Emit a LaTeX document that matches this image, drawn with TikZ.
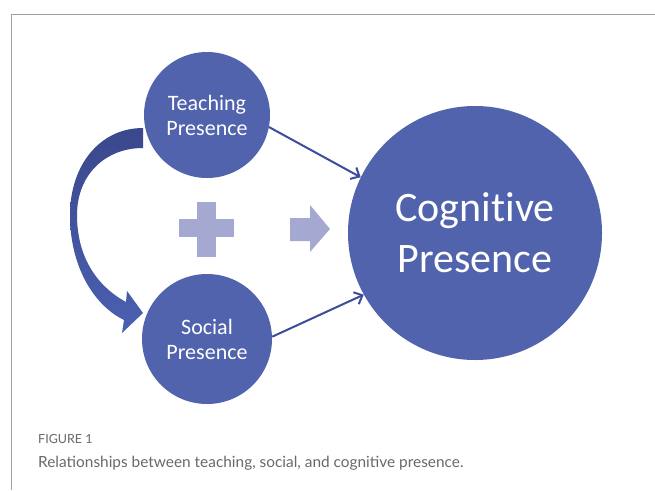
\documentclass[tikz,border=0pt]{standalone}
\usepackage{fontspec}
\setmainfont{Carlito}[Ligatures=NoCommon]
\newfontfamily\capfont{Lato}
\usetikzlibrary{arrows.meta}
\definecolor{circblue}{RGB}{80,99,172}
\definecolor{linkblue}{RGB}{62,76,156}
\definecolor{curvetop}{RGB}{58,72,140}
\definecolor{curvebot}{RGB}{74,96,176}
\definecolor{lavender}{RGB}{165,169,209}
\definecolor{framegray}{RGB}{160,160,160}
\definecolor{capgray}{RGB}{105,105,105}
\tikzset{
  circ/.style={circle, fill=circblue, text=white, align=center, inner sep=0pt},
  linkarrow/.style={draw=linkblue, line width=2pt, -{Straight Barb[length=7pt,width=13pt,line width=2pt]}},
  lav/.style={fill=lavender, draw=none},
  frameline/.style={draw=framegray, line width=1pt},
  captext/.style={anchor=base west, inner sep=0pt, text=capgray}
}
\begin{document}
\begin{tikzpicture}[x=1pt,y=-1pt]
\useasboundingbox (0,0) rectangle (655,490);
\fill[white] (0,0) rectangle (655,490);
% frame
\draw[frameline] (11,490) -- (11,14) -- (655,14);
% circles
\node[circ, minimum size=126pt, font=\fontsize{22}{25}\selectfont] (teach) at (207,115) {Teaching\\Presence};
\node[circ, minimum size=130pt, font=\fontsize{22}{25}\selectfont] (social) at (207,339) {Social\\Presence};
\node[circ, minimum size=254pt, font=\fontsize{42}{51}\selectfont] (cog) at (475,233) {Cognitive\\Presence};
% thin arrows
\draw[linkarrow] (teach.-11) -- (cog.154);
\draw[linkarrow] (social.2) -- (cog.209);
% plus sign
\fill[lav] (197,202) rectangle (216,257);
\fill[lav] (179,219) rectangle (234,237);
% block arrow
\fill[lav] (290,218) -- (310,218) -- (310,205) -- (330,229) -- (310,252) -- (310,241) -- (290,241) -- cycle;
% curved arrow
\shade[top color=curvetop, bottom color=curvebot]
  (143,128) .. controls (100,128) and (70,165) .. (70,215)
  .. controls (70,268) and (95,306) .. (124,320)
  -- (122,333) -- (143,313) -- (127,291) -- (126,302)
  .. controls (95,285) and (77,255) .. (77,215)
  .. controls (77,175) and (105,148) .. (143,148) -- cycle;
% caption
\node[captext, font=\capfont\fontsize{12.5}{14}\selectfont] (figlabel) at (38,443) {FIGURE 1};
\node[captext, font=\capfont\fontsize{15.4}{20}\selectfont] (caption) at (38,467) {Relationships between teaching, social, and cognitive presence.};
\end{tikzpicture}
\end{document}
